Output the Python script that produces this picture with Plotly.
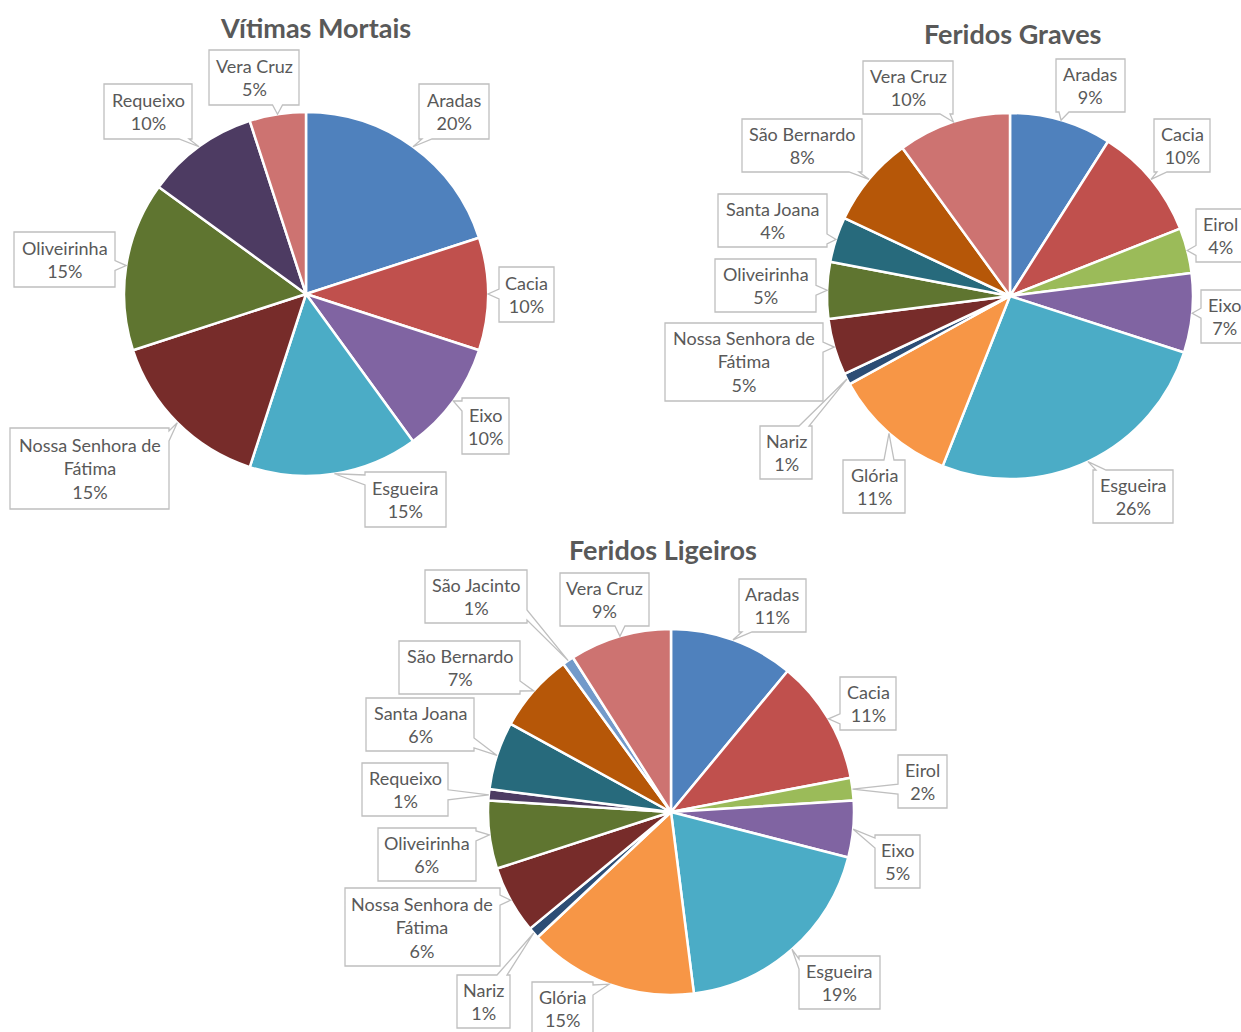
import math
import plotly.graph_objects as go

W, H = 1241, 1032

# ---------------- data ----------------
categories = ["Aradas", "Cacia", "Eirol", "Eixo", "Esgueira", "Glória", "Nariz",
              "Nossa Senhora de Fátima", "Oliveirinha", "Requeixo", "Santa Joana",
              "São Bernardo", "São Jacinto", "Vera Cruz"]
vitimas_mortais = [20, 10, 0, 10, 15, 0, 0, 15, 15, 10, 0, 0, 0, 5]
feridos_graves = [9, 10, 4, 7, 26, 11, 1, 5, 5, 0, 4, 8, 0, 10]
feridos_ligeiros = [11, 11, 2, 5, 19, 15, 1, 6, 6, 1, 6, 7, 1, 9]
titles = ["Vítimas Mortais", "Feridos Graves", "Feridos Ligeiros"]

# ---------------- styles / layout ----------------
colors = ["#4F81BD", "#C0504D", "#9BBB59", "#8064A2", "#4BACC6", "#F79646", "#2C4D75",
          "#772C2A", "#5F7530", "#4D3B62", "#276A7C", "#B65708", "#729ACA", "#CD7371"]
label_text = {"Nossa Senhora de Fátima": "Nossa Senhora de<br>Fátima"}
TEXT = "#595959"
BORDER = "#BFBFBF"
FONT = "Lato"

pies = [
    dict(values=vitimas_mortais, cx=306, cy=294, r=182, title=(315, 27),
         boxes={"Aradas": (419, 84, 489, 139), "Cacia": (499, 267, 554, 322),
                "Eixo": (462, 398, 509, 454), "Esgueira": (365, 472, 446, 527),
                "Nossa Senhora de Fátima": (10, 428, 169, 509),
                "Oliveirinha": (14, 232, 115, 287), "Requeixo": (104, 84, 192, 139),
                "Vera Cruz": (209, 50, 299, 105)}),
    dict(values=feridos_graves, cx=1010, cy=296, r=183, title=(1012, 33),
         boxes={"Vera Cruz": (863, 61, 953, 114), "Aradas": (1056, 59, 1125, 112),
                "São Bernardo": (742, 119, 862, 172), "Cacia": (1154, 119, 1210, 172),
                "Santa Joana": (718, 194, 827, 247), "Eirol": (1196, 209, 1245, 262),
                "Oliveirinha": (715, 259, 816, 312), "Eixo": (1201, 290, 1248, 343),
                "Nossa Senhora de Fátima": (665, 323, 823, 401),
                "Nariz": (760, 426, 812, 479), "Glória": (843, 460, 905, 513),
                "Esgueira": (1093, 470, 1173, 523)}),
    dict(values=feridos_ligeiros, cx=671, cy=812, r=183, title=(663, 549),
         boxes={"São Jacinto": (425, 570, 527, 623), "Vera Cruz": (560, 573, 649, 626),
                "Aradas": (739, 579, 806, 632), "São Bernardo": (399, 641, 520, 694),
                "Cacia": (840, 677, 896, 730), "Santa Joana": (366, 698, 474, 751),
                "Eirol": (898, 755, 947, 808), "Requeixo": (362, 763, 448, 816),
                "Oliveirinha": (378, 828, 476, 881), "Eixo": (875, 835, 920, 888),
                "Nossa Senhora de Fátima": (345, 888, 500, 966),
                "Esgueira": (799, 956, 880, 1009), "Nariz": (457, 975, 510, 1028),
                "Glória": (532, 982, 593, 1035)}),
]


def px(x):
    return x / W


def py(y):
    return 1 - y / H


def callout_path(l, t, rr, b, tx, ty, hw=5):
    dx = (l - tx) if tx < l else ((tx - rr) if tx > rr else 0)
    dy = (t - ty) if ty < t else ((ty - b) if ty > b else 0)
    if dy >= dx:
        side = "bottom" if ty > b else "top"
    else:
        side = "right" if tx > rr else "left"
    clamp = lambda v, lo, hi: max(lo, min(hi, v))
    pts = [(l, t)]
    if side == "top":
        bx = clamp(tx, l + hw + 3, rr - hw - 3)
        pts += [(bx - hw, t), (tx, ty), (bx + hw, t)]
    pts.append((rr, t))
    if side == "right":
        by = clamp(ty, t + hw + 3, b - hw - 3)
        pts += [(rr, by - hw), (tx, ty), (rr, by + hw)]
    pts.append((rr, b))
    if side == "bottom":
        bx = clamp(tx, l + hw + 3, rr - hw - 3)
        pts += [(bx + hw, b), (tx, ty), (bx - hw, b)]
    pts.append((l, b))
    if side == "left":
        by = clamp(ty, t + hw + 3, b - hw - 3)
        pts += [(l, by + hw), (tx, ty), (l, by - hw)]
    return "M " + " L ".join(f"{px(x):.5f},{py(y):.5f}" for x, y in pts) + " Z"


fig = go.Figure()
shapes = []
annotations = []

for k, p in enumerate(pies):
    idx = [i for i, v in enumerate(p["values"]) if v > 0]
    labs = [categories[i] for i in idx]
    vals = [p["values"][i] for i in idx]
    cols = [colors[i] for i in idx]
    cx, cy, r = p["cx"], p["cy"], p["r"]
    fig.add_trace(go.Pie(
        labels=labs, values=vals, sort=False, direction="clockwise", rotation=0,
        marker=dict(colors=cols, line=dict(color="white", width=2.5)),
        textinfo="none", showlegend=False, hoverinfo="label+percent",
        domain=dict(x=[px(cx - r), px(cx + r)], y=[py(cy + r), py(cy - r)]),
    ))
    total = sum(vals)
    cum = 0
    for lab, v in zip(labs, vals):
        mid = (cum + v / 2) / total
        cum += v
        ang = 2 * math.pi * mid
        tx = cx + r * math.sin(ang)
        ty = cy - r * math.cos(ang)
        l, t, rr, b = p["boxes"][lab]
        shapes.append(dict(type="path", path=callout_path(l, t, rr, b, tx, ty),
                           xref="paper", yref="paper", fillcolor="white",
                           line=dict(color=BORDER, width=1.3), layer="above"))
        pct = round(100 * v / total)
        annotations.append(dict(
            x=px((l + rr) / 2), y=py((t + b) / 2), xref="paper", yref="paper",
            xanchor="center", yanchor="middle", showarrow=False,
            text=f"{label_text.get(lab, lab)}<br>{pct}%",
            font=dict(family=FONT, size=18, color=TEXT)))
    tx_, ty_ = p["title"]
    annotations.append(dict(
        x=px(tx_), y=py(ty_), xref="paper", yref="paper", xanchor="center",
        yanchor="middle", showarrow=False, text=f"<b>{titles[k]}</b>",
        font=dict(family=FONT, size=27, color=TEXT)))

fig.update_layout(
    width=W, height=H, autosize=False,
    margin=dict(l=0, r=0, t=0, b=0),
    paper_bgcolor="white", plot_bgcolor="white",
    shapes=shapes, annotations=annotations,
)

fig.write_html("out.html")
